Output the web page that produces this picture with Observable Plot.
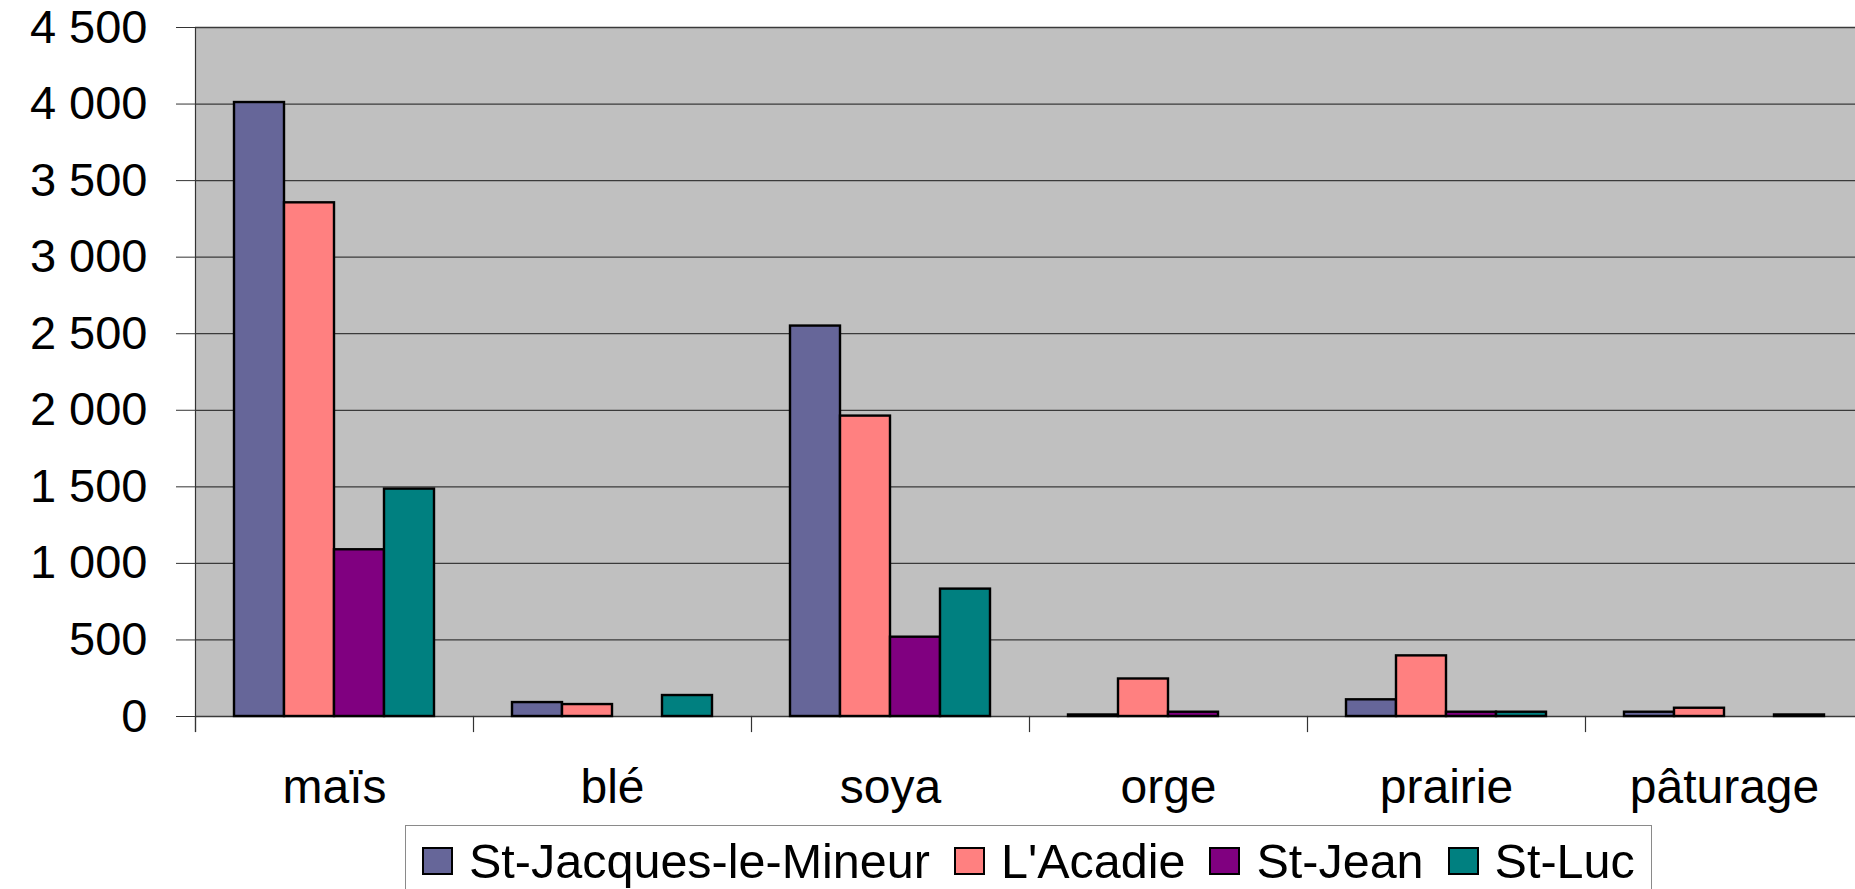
<!DOCTYPE html>
<html>
<head>
<meta charset="utf-8">
<script src="https://cdn.jsdelivr.net/npm/d3@7"></script>
<script src="https://cdn.jsdelivr.net/npm/@observablehq/plot@0.6"></script>
<style>
  html, body { margin: 0; padding: 0; background: white; overflow: hidden; }
  body { width: 1855px; height: 889px; position: relative; font-family: "Liberation Sans", Arial, sans-serif; }
  #legend { position: absolute; left: 405px; top: 825px; height: 70px; border: 1.5px solid #8a8a8a; background: white;
            display: flex; align-items: center; padding: 0 16px; font-size: 48.5px; color: black; white-space: nowrap; }
  .item { display: flex; align-items: center; margin-right: 24px; }
  .item:last-child { margin-right: 0; }
  .sw { width: 27px; height: 24px; border: 2px solid black; margin-right: 16px; }
</style>
</head>
<body>
<div id="chart"></div>
<div id="legend"></div>
<script>
const categories = ["maïs", "blé", "soya", "orge", "prairie", "pâturage"];
const series = ["St-Jacques-le-Mineur", "L'Acadie", "St-Jean", "St-Luc"];
const stJacques = [4010, 91, 2550, 10, 109, 28];
const lAcadie   = [3355, 78, 1962, 245, 396, 54];
const stJean    = [1089, 0, 518, 28, 28, 0];
const stLuc     = [1485, 137, 832, 0, 28, 10];
const yTicks = [0, 500, 1000, 1500, 2000, 2500, 3000, 3500, 4000, 4500];
const colors = ["#666699", "#FF8080", "#800080", "#008080"];

const seriesValues = [stJacques, lAcadie, stJean, stLuc];
const data = [];
categories.forEach((c, i) => {
  series.forEach((s, j) => {
    data.push({category: c, series: s, value: seriesValues[j][i]});
  });
});

const fmt = d3.formatLocale({decimal: ",", thousands: " ", grouping: [3]}).format(",");

const H = 820, MT = 27, MB = 104;
const chart = Plot.plot({
  width: 1855,
  height: H,
  marginLeft: 193,
  marginRight: -10,
  marginTop: MT,
  marginBottom: MB,
  style: {fontFamily: "'Liberation Sans', Arial, sans-serif", fontSize: "48px", background: "white", color: "black"},
  fx: {domain: categories, padding: 0, label: null},
  x: {domain: series, paddingInner: 0, paddingOuter: 0.74, axis: null},
  y: {domain: [0, 4500], label: null},
  color: {domain: series, range: colors},
  marks: [
    Plot.frame({fill: "#c0c0c0", stroke: null, facet: "super"}),
    Plot.gridY(yTicks, {stroke: "#3a3a3a", strokeOpacity: 1, strokeWidth: 1.3}),
    Plot.barY(data.filter(d => d.value > 0), {
      fx: "category", x: "series", y: "value", fill: "series",
      stroke: "black", strokeWidth: 2.4, inset: 0
    }),
    Plot.frame({anchor: "left", insetTop: H - MT - MB, insetBottom: -15, stroke: "#333", strokeWidth: 1.2}),
    Plot.frame({anchor: "left", facet: "super", insetBottom: -15, stroke: "#333", strokeWidth: 1.2}),
    Plot.axisY(yTicks, {tickSize: 19, tickPadding: 29, tickFormat: fmt, fontSize: 47, stroke: "#333", label: null}),
    Plot.axisFx({anchor: "bottom", tickSize: 0, tickPadding: 52, fontSize: 48, label: null})
  ]
});
document.getElementById("chart").appendChild(chart);

const legend = document.getElementById("legend");
series.forEach((s, j) => {
  const item = document.createElement("div");
  item.className = "item";
  const sw = document.createElement("div");
  sw.className = "sw";
  sw.style.background = colors[j];
  const t = document.createElement("span");
  t.textContent = s;
  item.appendChild(sw);
  item.appendChild(t);
  legend.appendChild(item);
});
</script>
</body>
</html>
